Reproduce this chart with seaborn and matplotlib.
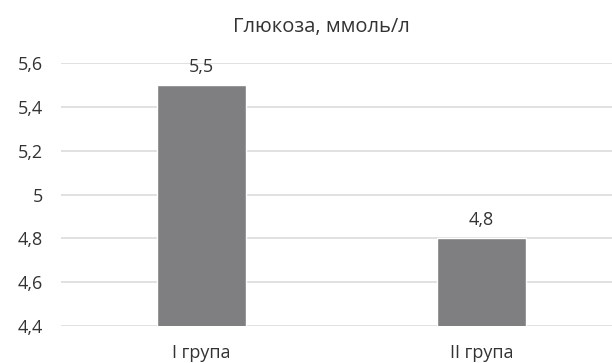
import matplotlib
matplotlib.use("Agg")
import matplotlib.pyplot as plt
import seaborn as sns
import pandas as pd

groups = ["I група", "II група"]
glucose = [5.5, 4.8]
y_ticks = [4.4, 4.6, 4.8, 5.0, 5.2, 5.4, 5.6]
y_labels = ["4,4", "4,6", "4,8", "5", "5,2", "5,4", "5,6"]
title = "Глюкоза, ммоль/л"

sns.set_theme(style="white")
plt.rcParams["font.family"] = ["Open Sans", "DejaVu Sans"]

df = pd.DataFrame({"group": groups, "value": glucose})

W, H = 612, 363
fig = plt.figure(figsize=(W / 100, H / 100), dpi=100)
ax = fig.add_axes([61 / W, 1 - 326 / H, (W - 61) / W, (326 - 63) / H])

text_color = "#333333"
grid_color = "#d9d9d9"

for y in y_ticks:
    ax.axhline(y, color=grid_color, lw=1.1, zorder=0)

sns.barplot(data=df, x="group", y="value", color="#7f7f82", width=0.318,
            saturation=1, ax=ax, zorder=2)

for i, v in enumerate(glucose):
    ax.annotate(f"{v:.1f}".replace(".", ","), xy=(i, v), xytext=(0, 9.4),
                textcoords="offset points", ha="center", va="baseline",
                fontsize=13, color=text_color)

ax.set_xlim(-0.502, 1.466)
ax.set_ylim(4.4, 5.6)
ax.set_yticks(y_ticks)
ax.set_yticklabels(y_labels, fontsize=13, color=text_color)
ax.set_xticks(range(len(groups)))
ax.set_xticklabels(groups, fontsize=13, color=text_color)
ax.tick_params(axis="y", length=0, pad=13)
ax.tick_params(axis="x", length=0, pad=13)
ax.set_xlabel("")
ax.set_ylabel("")
for s in ax.spines.values():
    s.set_visible(False)

fig.text(321 / W, 1 - 32 / H, title, ha="center", va="baseline",
         fontsize=14.5, color=text_color)

fig.savefig("out.png", dpi=100)
